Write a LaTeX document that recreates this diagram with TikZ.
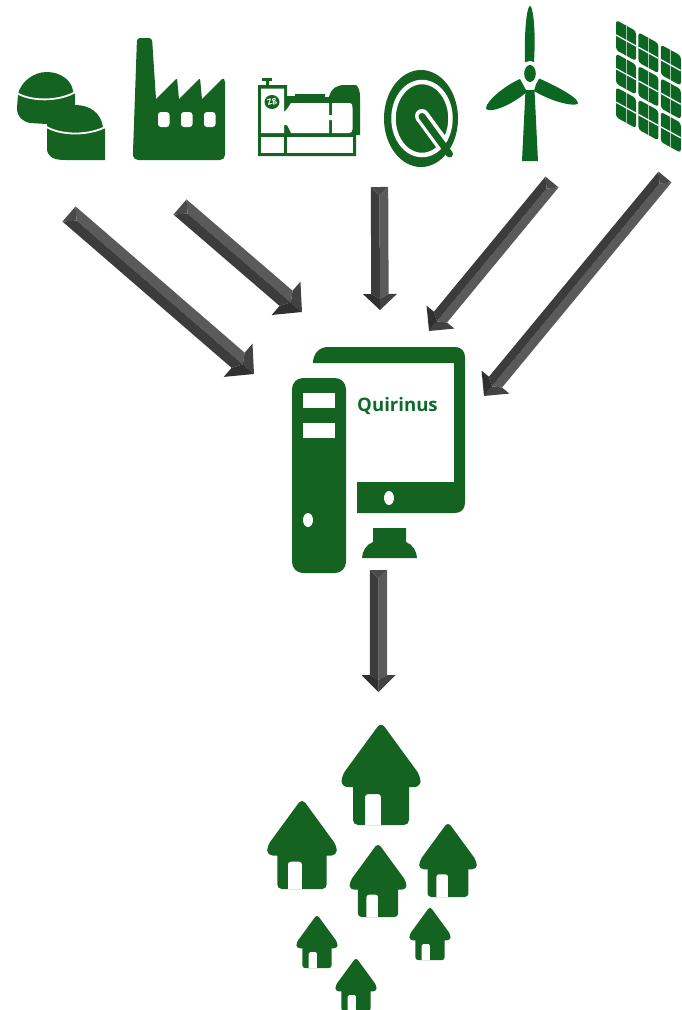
\documentclass[tikz,border=0pt]{standalone}
\usepackage{fontspec}
\setmainfont{Open Sans}
\usetikzlibrary{calc}
\definecolor{qgreen}{HTML}{156321}
\definecolor{wgreen}{HTML}{0B6622}
\definecolor{qtext}{HTML}{0F6A2B}
\definecolor{alight}{HTML}{5A5A5A}
\definecolor{amid}{HTML}{4A4A4A}
\definecolor{adark}{HTML}{3C3C3C}
\definecolor{ahead}{HTML}{424242}
\definecolor{aheadd}{HTML}{303030}
\tikzset{
  icon/.style={fill=qgreen,draw=none},
  cutout/.style={fill=white,draw=none},
}
% tail, tip, half shaft, half head, head length
\newcommand{\bevarrow}[5]{%
  \coordinate (n) at ($(#2)!#5pt!(#1)$);
  \coordinate (ac) at ($(#1)!#3pt!(#2)$);
  \coordinate (al) at ($(#1)!#3pt!90:(#2)$);
  \coordinate (ar) at ($(#1)!#3pt!-90:(#2)$);
  \coordinate (nl) at ($(n)!#3pt!90:(#2)$);
  \coordinate (nr) at ($(n)!#3pt!-90:(#2)$);
  \coordinate (hl) at ($(n)!#4pt!90:(#2)$);
  \coordinate (hr) at ($(n)!#4pt!-90:(#2)$);
  \coordinate (nb) at ($(n)!0.3!(#2)$);
  \fill[alight] (al) -- (ac) -- (nb) -- (nl) -- cycle;
  \fill[adark] (ar) -- (ac) -- (nb) -- (nr) -- cycle;
  \fill[amid] (al) -- (ac) -- (ar) -- cycle;
  \fill[ahead] (hl) -- (#2) -- (nb) -- (nl) -- cycle;
  \fill[aheadd] (hr) -- (#2) -- (nb) -- (nr) -- cycle;
}
% apex x, apex y, scale
\newcommand{\house}[3]{%
  \begin{scope}[shift={(#1,#2)},scale=#3]
    \fill[icon] (0,100) [rounded corners=#3*5pt] -- (-28,100) [sharp corners] -- (-28,62)
      [rounded corners=#3*6pt] -- (-39.5,62) -- (-39.5,51) -- (0,-3) -- (39.5,51) -- (39.5,62)
      [sharp corners] -- (28,62) [rounded corners=#3*5pt] -- (28,100) [sharp corners]
      -- (0,100) [rounded corners=#3*3pt] -- (0,69) -- (-16,69) [sharp corners] -- (-16,100) -- cycle;
  \end{scope}%
}
\begin{document}
\begin{tikzpicture}[x=1pt,y=-1pt]
\useasboundingbox (0,0) rectangle (681,1010);
% named arrow ends
\coordinate (t1) at (69,214);   \coordinate (p1) at (254,374);
\coordinate (t2) at (180,207);  \coordinate (p2) at (302,312);
\coordinate (t3) at (379.5,187);\coordinate (p3) at (380,310);
\coordinate (t4) at (552,182);  \coordinate (p4) at (429,331);
\coordinate (t5) at (665,177);  \coordinate (p5) at (484,396);
\coordinate (t6) at (378.5,570);\coordinate (p6) at (378.5,692);
\bevarrow{t1}{p1}{10}{22}{21}
\bevarrow{t2}{p2}{10}{22}{21}
\bevarrow{t3}{p3}{8.7}{17}{16}
\bevarrow{t4}{p4}{8.5}{18}{18}
\bevarrow{t5}{p5}{8.5}{18}{18}
\bevarrow{t6}{p6}{8.7}{17}{17}
% digester
\fill[icon] (18,94) .. controls (21,82) and (33,72) .. (47,72) .. controls (61,72) and (72,81) .. (73,91)
  -- (75,94) -- (75,105) .. controls (90,105) and (101,113) .. (103,127) -- (105,129) -- (105,160)
  -- (65,160) .. controls (52,160) and (47,156) .. (47,148) -- (47,124) -- (30,123)
  .. controls (22,121) and (17,117) .. (17,108) -- cycle;
\draw[white,line width=1.8pt] (15,92) .. controls (30,102) and (60,102) .. (77,91);
\draw[white,line width=1.8pt] (45,126) .. controls (60,136) and (90,136) .. (107,126);
% factory
\fill[icon] (133,152) [rounded corners=3pt] -- (137,38) -- (152,38) [sharp corners] -- (156,99)
  [rounded corners=2pt] -- (177,78) [sharp corners] -- (179,99)
  [rounded corners=2pt] -- (200,78) [sharp corners] -- (202,99)
  [rounded corners=2pt] -- (223,78) -- (225,80) [rounded corners=5pt] -- (225,160) -- (133,160) -- cycle;
\foreach \wx in {158,181,204}
  \fill[cutout,rounded corners=3pt] (\wx,112) rectangle +(11.5,15);
% generator
\fill[icon] (262,78) rectangle (272,81);
\fill[icon] (265.5,81) rectangle (268.5,86);
\fill[icon] (258,85) -- (287,85) -- (287,96) -- (295,96) -- (295,94) -- (325,94) -- (325,97) -- (329,97)
  .. controls (331,88) and (337,85) .. (345,85) -- (356,85) .. controls (359,87) and (360,92) .. (360,97)
  -- (360,135) -- (356,135) -- (356,156) -- (258,156) -- cycle;
\fill[cutout] (261,88.5) -- (284,88.5) -- (284,112) -- (287,109) -- (291,103) -- (329,103) -- (329,115) -- (332,115) -- (332,103) -- (350,103)
  .. controls (352,103) and (352.5,105) .. (352.5,108) -- (352.5,129) .. controls (352.5,132) and (351,133) .. (349,133)
  -- (332,133) -- (332,120) -- (329,120) -- (329,133) -- (291,133) -- (287,125) -- (284,125) -- (284,133) -- (261,133) -- cycle;
\fill[cutout] (261,137) rectangle (284,152.5);
\fill[cutout] (287,137) rectangle (352.5,152.5);
\fill[icon] (272,102) ellipse (7.5 and 7);
\node (zg) at (272,102) [text=white,rotate=15,inner sep=0pt,font=\bfseries\fontsize{8}{8}\selectfont] {Zg};
% Q logo
\fill[icon] (421,118.5) ellipse (37 and 48.5);
\draw[white,line width=4.5pt] (422,118.5) ellipse (28.5 and 36.5);
\draw[white,line width=14pt] (422,116) -- (442.5,144);
\fill[white] (422,116) circle (7);
\draw[qgreen,line width=7pt,line cap=round] (422,116.5) -- (449.5,154);
% wind turbine
\fill[wgreen] (525,62) .. controls (524,30) and (527,6) .. (530,6) .. controls (533,6) and (536,30) .. (534,62) -- cycle;
\fill[wgreen] (520,79) .. controls (506,85) and (487,100) .. (486,108) .. controls (486,113) and (505,110) .. (527,92) -- cycle;
\fill[wgreen] (538,78) .. controls (552,84) and (578,97) .. (578,103) .. controls (578,107) and (556,104) .. (534,91) -- cycle;
\fill[wgreen] (525.5,90) -- (534.5,90) -- (538,161) -- (522,161) -- cycle;
\fill[white] (530,73.5) ellipse (10 and 12.5);
\fill[wgreen] (530,73.5) ellipse (5.8 and 8.5);
% solar panel
\begin{scope}[cm={1,-0.55,0,1,(616,20)}]
  \foreach \ci in {0,1,2} \foreach \rj in {0,1,2} {
    \begin{scope}[shift={(\ci*22.4,\rj*33.6)}]
      \fill[wgreen,rounded corners=3pt] (0,0) rectangle (20,30);
      \draw[white,opacity=.65,line width=1pt] (10,0) -- (10,30);
      \draw[white,line width=1.3pt] (0,15) -- (20,15);
    \end{scope}
  }
\end{scope}
% computer
\fill[icon] (313,363) .. controls (313,354) and (319,347) .. (328,347) -- (455,347) .. controls (461,347) and (465,351) .. (465,357)
  -- (465,503) .. controls (465,509) and (461,513) .. (455,513) -- (357,513) -- (357,482) -- (454,482) -- (454,363) -- cycle;
\fill[cutout] (389,498) ellipse (5 and 7);
\fill[icon,rounded corners=11pt] (292,378) rectangle (346,573);
\fill[cutout] (303,393) rectangle (335,408);
\fill[cutout] (303,423) rectangle (335,438);
\fill[cutout] (308,520) ellipse (5 and 7);
\fill[icon] (373,528) -- (406,528) -- (406,542) .. controls (412,544) and (417,551) .. (417,558) -- (362,558) .. controls (362,551) and (367,544) .. (373,542) -- cycle;
\node (quirinus) at (397.5,406) [text=qtext,inner sep=0pt,font=\bfseries\fontsize{18.6}{20}\selectfont] {Quirinus};
% houses
\house{381}{725}{1}
\house{302}{801}{.88}
\house{378}{845}{.72}
\house{448}{824}{.73}
\house{317}{916}{.52}
\house{430}{908}{.52}
\house{356}{959}{.52}
\end{tikzpicture}
\end{document}
